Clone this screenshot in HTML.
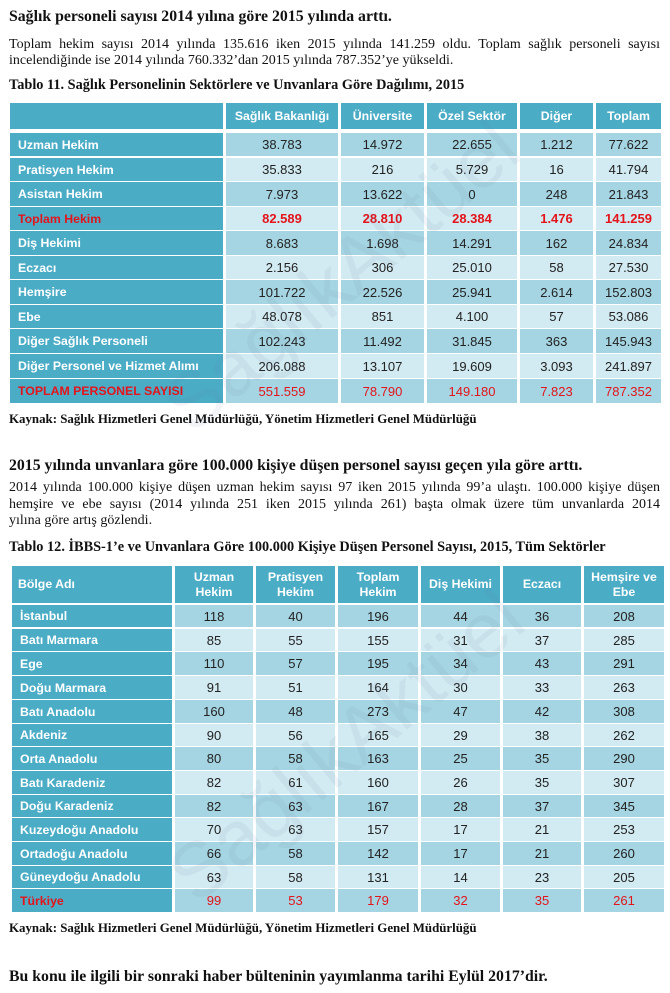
<!DOCTYPE html>
<html><head><meta charset="utf-8">
<style>
html,body{margin:0;padding:0;background:#fff;}
body{width:670px;height:993px;position:relative;overflow:hidden;font-family:"Liberation Serif",serif;color:#111;}
.t{position:absolute;left:9px;white-space:nowrap;}
.h{font-weight:bold;font-size:15.8px;line-height:18px;}
.p{font-size:14px;line-height:16px;width:651px;}
.j{text-align:justify;text-align-last:justify;}
.cap{font-weight:bold;font-size:14.3px;line-height:16px;}
.src{font-weight:bold;font-size:12.9px;line-height:14px;}
.r{position:absolute;left:0;width:670px;}
.c{position:absolute;top:0;height:100%;display:flex;align-items:center;justify-content:center;font-family:"Liberation Sans",sans-serif;font-size:13px;color:#222;}
.lab{justify-content:flex-start;padding-left:8px;box-sizing:border-box;background:#4bacc6;color:#fff;font-weight:bold;font-size:12.3px;}
.hd{background:#4bacc6;color:#fff;font-weight:bold;font-size:12.3px;text-align:center;line-height:15px;}
.d{background:#a5d5e2;}
.l{background:#d2eaf1;}
.red{color:#e3141c !important;}
.b{font-weight:bold;}
.a0{left:10px;width:213px;}
.a1{left:226px;width:112px;}
.a2{left:341px;width:83px;}
.a3{left:427px;width:90px;}
.a4{left:520px;width:73px;}
.a5{left:596px;width:65px;}
.b0{left:12px;width:160px;}
.b1{left:175px;width:78px;}
.b2{left:256px;width:79px;}
.b3{left:338px;width:80px;}
.b4{left:421px;width:79px;}
.b5{left:503px;width:78px;}
.b6{left:584px;width:80px;}
.wm{position:absolute;font-family:"Liberation Sans",sans-serif;font-size:78px;color:rgba(90,120,150,0.08);white-space:nowrap;transform-origin:left center;pointer-events:none;}
</style></head><body>

<div class="t h" style="top:8px;">Sağlık personeli sayısı 2014 yılına göre 2015 yılında arttı.</div>
<div class="t p j" style="top:37px;">Toplam hekim sayısı 2014 yılında 135.616 iken 2015 yılında 141.259 oldu. Toplam sağlık personeli sayısı</div>
<div class="t p" style="top:53px;">incelendiğinde ise 2014 yılında 760.332’dan 2015 yılında 787.352’ye yükseldi.</div>
<div class="t cap" style="top:77px;">Tablo 11. Sağlık Personelinin Sektörlere ve Unvanlara Göre Dağılımı, 2015</div>

<div class="r" style="top:103px;height:26px;">
<div class="c hd a0"></div><div class="c hd a1">Sağlık Bakanlığı</div><div class="c hd a2">Üniversite</div><div class="c hd a3">Özel Sektör</div><div class="c hd a4">Diğer</div><div class="c hd a5">Toplam</div>
</div>

<div class="r" style="top:133px;height:23px;"><div class="c lab a0">Uzman Hekim</div><div class="c d a1">38.783</div><div class="c d a2">14.972</div><div class="c d a3">22.655</div><div class="c d a4">1.212</div><div class="c d a5">77.622</div></div>
<div class="r" style="top:158px;height:23px;"><div class="c lab a0">Pratisyen Hekim</div><div class="c l a1">35.833</div><div class="c l a2">216</div><div class="c l a3">5.729</div><div class="c l a4">16</div><div class="c l a5">41.794</div></div>
<div class="r" style="top:182px;height:24px;"><div class="c lab a0">Asistan Hekim</div><div class="c d a1">7.973</div><div class="c d a2">13.622</div><div class="c d a3">0</div><div class="c d a4">248</div><div class="c d a5">21.843</div></div>
<div class="r" style="top:207px;height:23px;"><div class="c lab a0 red">Toplam Hekim</div><div class="c l a1 red b">82.589</div><div class="c l a2 red b">28.810</div><div class="c l a3 red b">28.384</div><div class="c l a4 red b">1.476</div><div class="c l a5 red b">141.259</div></div>
<div class="r" style="top:231px;height:24px;"><div class="c lab a0">Diş Hekimi</div><div class="c d a1">8.683</div><div class="c d a2">1.698</div><div class="c d a3">14.291</div><div class="c d a4">162</div><div class="c d a5">24.834</div></div>
<div class="r" style="top:256px;height:23px;"><div class="c lab a0">Eczacı</div><div class="c l a1">2.156</div><div class="c l a2">306</div><div class="c l a3">25.010</div><div class="c l a4">58</div><div class="c l a5">27.530</div></div>
<div class="r" style="top:280px;height:24px;"><div class="c lab a0">Hemşire</div><div class="c d a1">101.722</div><div class="c d a2">22.526</div><div class="c d a3">25.941</div><div class="c d a4">2.614</div><div class="c d a5">152.803</div></div>
<div class="r" style="top:305px;height:23px;"><div class="c lab a0">Ebe</div><div class="c l a1">48.078</div><div class="c l a2">851</div><div class="c l a3">4.100</div><div class="c l a4">57</div><div class="c l a5">53.086</div></div>
<div class="r" style="top:329px;height:24px;"><div class="c lab a0">Diğer Sağlık Personeli</div><div class="c d a1">102.243</div><div class="c d a2">11.492</div><div class="c d a3">31.845</div><div class="c d a4">363</div><div class="c d a5">145.943</div></div>
<div class="r" style="top:354px;height:24px;"><div class="c lab a0">Diğer Personel ve Hizmet Alımı</div><div class="c l a1">206.088</div><div class="c l a2">13.107</div><div class="c l a3">19.609</div><div class="c l a4">3.093</div><div class="c l a5">241.897</div></div>
<div class="r" style="top:379px;height:24px;"><div class="c lab a0 red">TOPLAM PERSONEL SAYISI</div><div class="c d a1 red">551.559</div><div class="c d a2 red">78.790</div><div class="c d a3 red">149.180</div><div class="c d a4 red">7.823</div><div class="c d a5 red">787.352</div></div>

<div class="t src" style="top:412px;">Kaynak: Sağlık Hizmetleri Genel Müdürlüğü, Yönetim Hizmetleri Genel Müdürlüğü</div>

<div class="t h" style="top:457px;">2015 yılında unvanlara göre 100.000 kişiye düşen personel sayısı geçen yıla göre arttı.</div>
<div class="t p j" style="top:480px;">2014 yılında 100.000 kişiye düşen uzman hekim sayısı 97 iken 2015 yılında 99’a ulaştı. 100.000 kişiye düşen</div>
<div class="t p j" style="top:497px;">hemşire ve ebe sayısı (2014 yılında 251 iken 2015 yılında 261) başta olmak üzere tüm unvanlarda 2014</div>
<div class="t p" style="top:513px;">yılına göre artış gözlendi.</div>
<div class="t cap" style="top:539px;">Tablo 12. İBBS-1’e ve Unvanlara Göre 100.000 Kişiye Düşen Personel Sayısı, 2015, Tüm Sektörler</div>

<div class="r" style="top:566px;height:37px;">
<div class="c hd b0" style="justify-content:flex-start;padding-left:6px;box-sizing:border-box;">Bölge Adı</div><div class="c hd b1">Uzman<br>Hekim</div><div class="c hd b2">Pratisyen<br>Hekim</div><div class="c hd b3">Toplam<br>Hekim</div><div class="c hd b4">Diş Hekimi</div><div class="c hd b5">Eczacı</div><div class="c hd b6">Hemşire ve<br>Ebe</div>
</div>

<div class="r" style="top:605px;height:22px;"><div class="c lab b0">İstanbul</div><div class="c d b1">118</div><div class="c d b2">40</div><div class="c d b3">196</div><div class="c d b4">44</div><div class="c d b5">36</div><div class="c d b6">208</div></div>
<div class="r" style="top:629px;height:22px;"><div class="c lab b0">Batı Marmara</div><div class="c l b1">85</div><div class="c l b2">55</div><div class="c l b3">155</div><div class="c l b4">31</div><div class="c l b5">37</div><div class="c l b6">285</div></div>
<div class="r" style="top:652px;height:23px;"><div class="c lab b0">Ege</div><div class="c d b1">110</div><div class="c d b2">57</div><div class="c d b3">195</div><div class="c d b4">34</div><div class="c d b5">43</div><div class="c d b6">291</div></div>
<div class="r" style="top:676px;height:23px;"><div class="c lab b0">Doğu Marmara</div><div class="c l b1">91</div><div class="c l b2">51</div><div class="c l b3">164</div><div class="c l b4">30</div><div class="c l b5">33</div><div class="c l b6">263</div></div>
<div class="r" style="top:700px;height:23px;"><div class="c lab b0">Batı Anadolu</div><div class="c d b1">160</div><div class="c d b2">48</div><div class="c d b3">273</div><div class="c d b4">47</div><div class="c d b5">42</div><div class="c d b6">308</div></div>
<div class="r" style="top:724px;height:22px;"><div class="c lab b0">Akdeniz</div><div class="c l b1">90</div><div class="c l b2">56</div><div class="c l b3">165</div><div class="c l b4">29</div><div class="c l b5">38</div><div class="c l b6">262</div></div>
<div class="r" style="top:747px;height:23px;"><div class="c lab b0">Orta Anadolu</div><div class="c d b1">80</div><div class="c d b2">58</div><div class="c d b3">163</div><div class="c d b4">25</div><div class="c d b5">35</div><div class="c d b6">290</div></div>
<div class="r" style="top:771px;height:23px;"><div class="c lab b0">Batı Karadeniz</div><div class="c l b1">82</div><div class="c l b2">61</div><div class="c l b3">160</div><div class="c l b4">26</div><div class="c l b5">35</div><div class="c l b6">307</div></div>
<div class="r" style="top:795px;height:22px;"><div class="c lab b0">Doğu Karadeniz</div><div class="c d b1">82</div><div class="c d b2">63</div><div class="c d b3">167</div><div class="c d b4">28</div><div class="c d b5">37</div><div class="c d b6">345</div></div>
<div class="r" style="top:818px;height:23px;"><div class="c lab b0">Kuzeydoğu Anadolu</div><div class="c l b1">70</div><div class="c l b2">63</div><div class="c l b3">157</div><div class="c l b4">17</div><div class="c l b5">21</div><div class="c l b6">253</div></div>
<div class="r" style="top:842px;height:23px;"><div class="c lab b0">Ortadoğu Anadolu</div><div class="c d b1">66</div><div class="c d b2">58</div><div class="c d b3">142</div><div class="c d b4">17</div><div class="c d b5">21</div><div class="c d b6">260</div></div>
<div class="r" style="top:866px;height:22px;"><div class="c lab b0">Güneydoğu Anadolu</div><div class="c l b1">63</div><div class="c l b2">58</div><div class="c l b3">131</div><div class="c l b4">14</div><div class="c l b5">23</div><div class="c l b6">205</div></div>
<div class="r" style="top:889px;height:23px;"><div class="c lab b0 red">Türkiye</div><div class="c d b1 red">99</div><div class="c d b2 red">53</div><div class="c d b3 red">179</div><div class="c d b4 red">32</div><div class="c d b5 red">35</div><div class="c d b6 red">261</div></div>

<div class="t src" style="top:921px;">Kaynak: Sağlık Hizmetleri Genel Müdürlüğü, Yönetim Hizmetleri Genel Müdürlüğü</div>

<div class="t h" style="top:968px;">Bu konu ile ilgili bir sonraki haber bülteninin yayımlanma tarihi Eylül 2017’dir.</div>

<div class="wm" style="left:175px;top:370px;transform:rotate(-40deg);">SağlıkAktüel</div>
<div class="wm" style="left:180px;top:840px;transform:rotate(-40deg);">SağlıkAktüel</div>

</body></html>
